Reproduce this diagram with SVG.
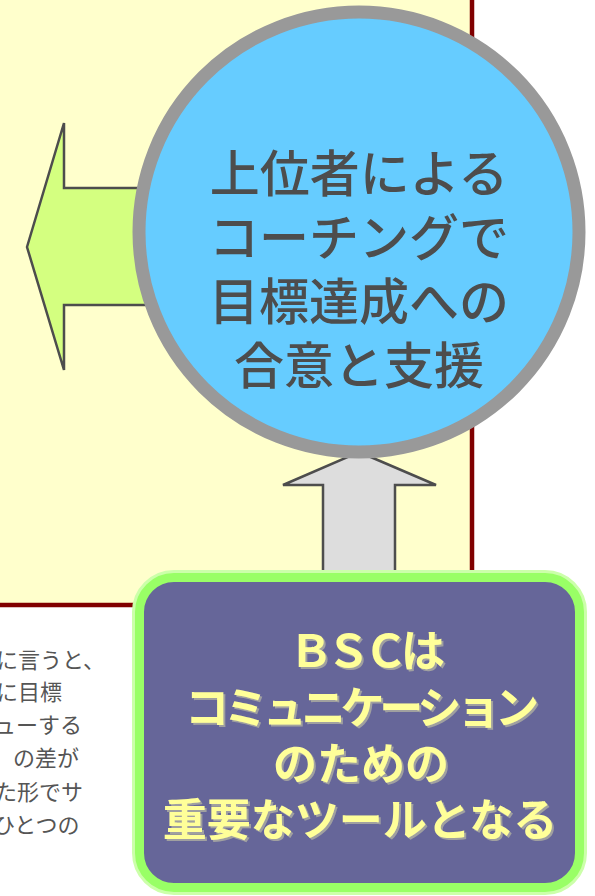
<svg xmlns="http://www.w3.org/2000/svg" width="595" height="896" viewBox="0 0 595 896">
  <style>
    .cjk { font-family: "Noto Sans CJK JP", "Noto Sans", sans-serif; }
    .side { font-size: 22px; fill: #555555; }
    .circ { font-size: 50px; fill: #4D4D4D; font-weight: 500; text-anchor: middle; }
    .boxt { font-size: 44px; font-weight: bold; text-anchor: middle; fill: #FFFF99; }
    .arrow { stroke: #4D4D4D; stroke-width: 2.5; stroke-linejoin: miter; }
  </style>
  <defs>
    <filter id="shadow" x="-10%" y="-10%" width="120%" height="130%">
      <feOffset in="SourceAlpha" dx="2" dy="2" result="off"/>
      <feFlood flood-color="#A0A0A0"/>
      <feComposite in2="off" operator="in" result="sh"/>
      <feMerge>
        <feMergeNode in="sh"/>
        <feMergeNode in="SourceGraphic"/>
      </feMerge>
    </filter>
  </defs>
  <rect x="0" y="0" width="595" height="896" fill="#FFFFFF"/>
  <g id="panel">
    <rect x="-5" y="-5" width="477" height="610" fill="#FFFFCC" stroke="#800000" stroke-width="4.5"/>
  </g>
  <g id="side-text" class="cjk side">
    <text x="-4" y="668">に言うと、</text>
    <text x="-4" y="700">に目標</text>
    <text x="-6" y="733">ューする</text>
    <text x="13" y="766">の差が</text>
    <text x="-5" y="800">た形でサ</text>
    <text x="-7" y="833">ひとつの</text>
  </g>
  <g id="connectors">
    <polygon class="arrow" fill="#D4FF80" points="27,247 64,123 64,188 170,188 170,305 64,305 64,370"/>
    <polygon class="arrow" fill="#DDDDDD" points="359,452 436,485 395,485 395,600 323,600 323,485 283,485"/>
  </g>
  <g id="coaching">
    <circle cx="359" cy="232" r="220" fill="#66CCFF" stroke="#999999" stroke-width="13"/>
    <g class="cjk circ">
      <text x="359" y="192">上位者による</text>
      <text x="359" y="256">コーチングで</text>
      <text x="359" y="320">目標達成への</text>
      <text x="359" y="384">合意と支援</text>
    </g>
  </g>
  <g id="bsc">
    <rect x="138" y="576" width="443" height="313" rx="36" ry="36" fill="#666699" stroke="#CCFFAA" stroke-width="12"/>
    <rect x="139.5" y="577.5" width="440" height="310" rx="34.5" ry="34.5" fill="#666699" stroke="#99FF66" stroke-width="9"/>
    <g class="cjk boxt" filter="url(#shadow)">
      <text x="367" y="667" textLength="156" lengthAdjust="spacing">ＢＳＣは</text>
      <text x="362" y="724" textLength="354" lengthAdjust="spacing">コミュニケーション</text>
      <text x="361" y="780">のための</text>
      <text x="360" y="836">重要なツールとなる</text>
    </g>
  </g>
</svg>
